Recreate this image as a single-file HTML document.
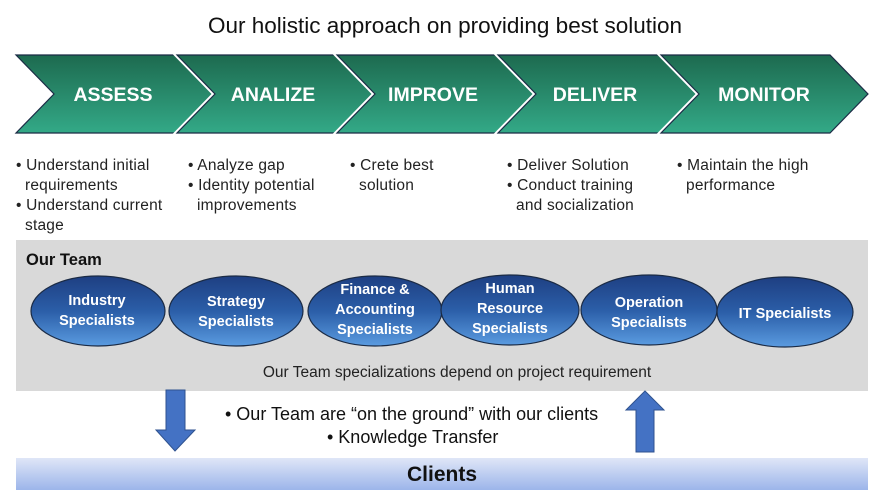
<!DOCTYPE html>
<html><head><meta charset="utf-8"><style>
html,body{margin:0;padding:0;background:#fff;width:882px;height:497px;overflow:hidden}
svg text{font-family:"Liberation Sans",sans-serif}
</style></head><body>
<svg width="882" height="497" viewBox="0 0 882 497" xmlns="http://www.w3.org/2000/svg">
<defs>
<linearGradient id="g" x1="0" y1="0" x2="0" y2="1"><stop offset="0" stop-color="#1d6a4f"/><stop offset="1" stop-color="#33a987"/></linearGradient>
<linearGradient id="b" x1="0" y1="0" x2="0" y2="1"><stop offset="0" stop-color="#1e3f82"/><stop offset="0.5" stop-color="#2b5ea8"/><stop offset="1" stop-color="#5a9be0"/></linearGradient>
<linearGradient id="c" x1="0" y1="0" x2="0" y2="1"><stop offset="0" stop-color="#dfe6f7"/><stop offset="1" stop-color="#9cb5ea"/></linearGradient>
</defs>
<text x="445" y="33" font-size="22.5" text-anchor="middle" fill="#111">Our holistic approach on providing best solution</text>
<g>
<polygon points="16,55 176,55 214,94 176,133 16,133 54,94" fill="url(#g)" stroke="#1b2b45" stroke-width="1.2"/>
<polygon points="177,55 336,55 374,94 336,133 177,133 215,94" fill="none" stroke="#fff" stroke-width="5"/>
<polygon points="177,55 336,55 374,94 336,133 177,133 215,94" fill="url(#g)" stroke="#1b2b45" stroke-width="1.2"/>
<polygon points="337,55 497,55 535,94 497,133 337,133 375,94" fill="none" stroke="#fff" stroke-width="5"/>
<polygon points="337,55 497,55 535,94 497,133 337,133 375,94" fill="url(#g)" stroke="#1b2b45" stroke-width="1.2"/>
<polygon points="498,55 660,55 698,94 660,133 498,133 536,94" fill="none" stroke="#fff" stroke-width="5"/>
<polygon points="498,55 660,55 698,94 660,133 498,133 536,94" fill="url(#g)" stroke="#1b2b45" stroke-width="1.2"/>
<polygon points="661,55 830,55 868,94 830,133 661,133 699,94" fill="none" stroke="#fff" stroke-width="5"/>
<polygon points="661,55 830,55 868,94 830,133 661,133 699,94" fill="url(#g)" stroke="#1b2b45" stroke-width="1.2"/>
</g>
<g fill="#fff" font-size="19.5" font-weight="bold" text-anchor="middle">
<text x="113" y="101">ASSESS</text><text x="273" y="101">ANALIZE</text><text x="433" y="101">IMPROVE</text><text x="595" y="101">DELIVER</text><text x="764" y="101">MONITOR</text>
</g>
<g font-size="15.5" fill="#222" letter-spacing="0.2">
<text x="16" y="170">• Understand initial</text><text x="25" y="190">requirements</text>
<text x="16" y="210">• Understand current</text><text x="25" y="230">stage</text>
<text x="188" y="170">• Analyze gap</text><text x="188" y="190">• Identity potential</text><text x="197" y="210">improvements</text>
<text x="350" y="170">• Crete best</text><text x="359" y="190">solution</text>
<text x="507" y="170">• Deliver Solution</text><text x="507" y="190">• Conduct training</text><text x="516" y="210">and socialization</text>
<text x="677" y="170">• Maintain the high</text><text x="686" y="190">performance</text>
</g>
<rect x="16" y="240" width="852" height="151" fill="#d9d9d9"/>
<text x="26" y="265" font-size="16.5" font-weight="bold" fill="#111">Our Team</text>
<g stroke="#1b2b45" stroke-width="1.2" fill="url(#b)">
<ellipse cx="98" cy="311" rx="67" ry="35"/><ellipse cx="236" cy="311" rx="67" ry="35"/><ellipse cx="375" cy="311" rx="67" ry="35"/>
<ellipse cx="510" cy="310" rx="69" ry="35"/><ellipse cx="649" cy="310" rx="68" ry="35"/><ellipse cx="785" cy="312" rx="68" ry="35"/>
</g>
<g fill="#fff" font-size="14.5" font-weight="bold" text-anchor="middle">
<text x="97" y="305">Industry</text><text x="97" y="325">Specialists</text>
<text x="236" y="306">Strategy</text><text x="236" y="326">Specialists</text>
<text x="375" y="294">Finance &amp;</text><text x="375" y="314">Accounting</text><text x="375" y="334">Specialists</text>
<text x="510" y="293">Human</text><text x="510" y="313">Resource</text><text x="510" y="333">Specialists</text>
<text x="649" y="307">Operation</text><text x="649" y="327">Specialists</text>
<text x="785" y="318">IT Specialists</text>
</g>
<text x="457" y="377" font-size="15.5" text-anchor="middle" fill="#222">Our Team specializations depend on project requirement</text>
<g fill="#4472c4" stroke="#2f528f" stroke-width="1">
<polygon points="166,390 185,390 185,430 195,430 175,451 156,430 166,430"/>
<polygon points="645,391 664,410 654,410 654,452 636,452 636,410 626,410"/>
</g>
<g font-size="18" fill="#111">
<text x="225" y="420">•  Our Team are “on the ground” with our clients</text>
<text x="327" y="443">•  Knowledge Transfer</text>
</g>
<rect x="16" y="458" width="852" height="32" fill="url(#c)"/>
<text x="442" y="481" font-size="21" font-weight="bold" text-anchor="middle" fill="#111">Clients</text>
</svg>
</body></html>
